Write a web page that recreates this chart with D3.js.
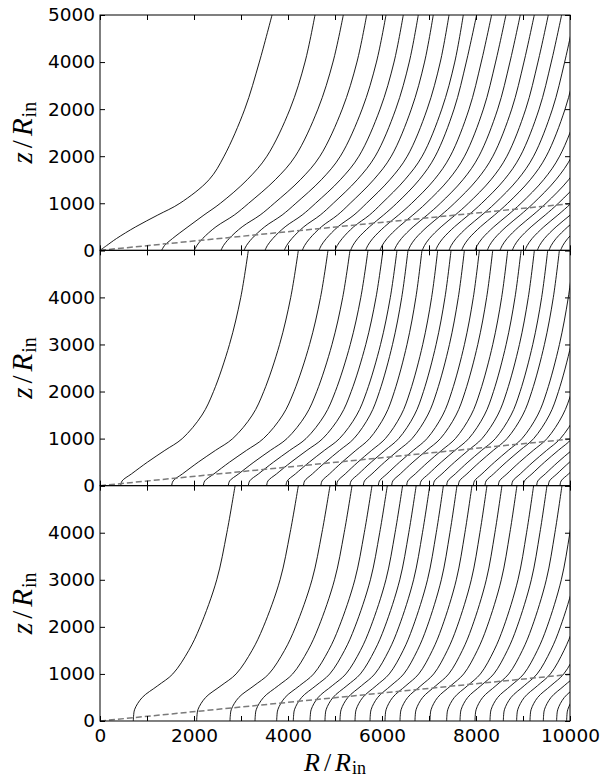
<!DOCTYPE html>
<html><head><meta charset="utf-8">
<script src="https://cdn.jsdelivr.net/npm/d3@7"></script>
<style>body{margin:0;background:#fff}svg{display:block}</style>
</head><body>
<svg id="chart" width="603" height="779"></svg>
<script>
// ---- data ----
const zLevels = [0, 100, 250, 500, 750, 1000, 1500, 2000, 3000, 4000, 5000];

const xTickValues = [0,1000,2000,3000,4000,5000,6000,7000,8000,9000,10000];
const xTickLabels = ["0","","2000","","4000","","6000","","8000","","10000"];
const yTickValues = [0,1000,2000,3000,4000,5000];
const topYTickLabels = ["0","1000","2000","2000","4000","5000"];
const lowerYTickLabels = ["0","1000","2000","3000","4000",""];

const diskR = [0, 10000];
const diskZ = [0, 990];

// top panel: footpoints (R at z=0) and horizontal rise R-R0 at each zLevel
const topFeet = [0,1312,2007,2574,3064,3511,3922,4305,4660,5000,5333,5652,5957,6262,6560,6858,7142,7426,7695,7979,8241,8511,8773,9043,9305,9553,9801];
const topBulk = [0,45,150,400,700,980,1460,1800,2200,2460,2680];
const topRises = [
  [0,140,350,760,1230,1700,2320,2640,3080,3390,3660],
  [0,60,230,560,900,1250,1820,2240,2730,3050,3262],
  [0,53,177,460,850,1156,1723,2148,2630,2950,3170],
  [0,52,174,451,833,1134,1689,2106,2580,2893,3100],
  [0,51,169,440,811,1104,1646,2051,2513,2818,3021],
  [0,49,165,428,790,1076,1603,1998,2448,2745,2942],
  [0,48,160,415,765,1042,1552,1935,2371,2658,2850],
  [0,47,156,406,749,1019,1518,1893,2319,2600,2786],
  [0,46,155,402,743,1011,1507,1878,2301,2580,2766],
  [0,46,153,397,734,999,1487,1855,2272,2548,2730],
  topBulk,topBulk,topBulk,topBulk,topBulk,topBulk,topBulk,topBulk,topBulk,
  topBulk,topBulk,topBulk,topBulk,topBulk,topBulk,topBulk,topBulk
];

// middle panel
const midFeet = [440,1525,2199,2730,3156,3546,3957,4330,4700,5035,5319,5603,5922,6206,6525,6809,7092,7376,7624,7943,8191,8475,8759,9007,9291,9539,9787];
const midBulk = [0,24,183,452,744,1036,1370,1563,1832,2021,2150];
const midRises = [
  [0,30,230,570,940,1310,1730,1975,2315,2555,2716],
  [0,30,229,566,932,1299,1717,1959,2296,2533,2695],
  [0,29,225,557,918,1278,1689,1928,2260,2493,2652],
  [0,28,220,544,896,1248,1649,1882,2206,2434,2589],
  [0,28,216,535,881,1227,1622,1851,2169,2393,2546],
  [0,27,210,520,856,1193,1577,1799,2109,2327,2475],
  [0,26,201,496,817,1138,1505,1717,2012,2220,2362],
  [0,24,189,467,769,1072,1416,1616,1894,2090,2223],
  midBulk,midBulk,midBulk,midBulk,midBulk,midBulk,midBulk,midBulk,midBulk,midBulk,
  midBulk,midBulk,midBulk,midBulk,midBulk,midBulk,midBulk,midBulk,midBulk
];

// bottom panel
const botFeet = [709,2057,2766,3298,3759,4113,4468,4787,5106,5426,5745,6064,6383,6702,7021,7376,7660,7979,8298,8582,8865,9149,9433,9716,9929];
const botBulk = [0,4,26,163,444,718,1008,1214,1517,1700,1850];
const botRises = [
  [0,5,30,190,520,840,1180,1420,1775,1990,2165],
  [0,5,30,190,519,839,1179,1419,1774,1988,2163],
  [0,5,30,187,511,826,1160,1396,1745,1956,2128],
  [0,5,29,182,495,801,1125,1354,1692,1897,2064],
  [0,5,28,178,487,787,1105,1330,1663,1864,2028],
  [0,5,28,176,480,776,1090,1312,1640,1838,2000],
  [0,5,28,173,473,764,1074,1292,1615,1810,1970],
  [0,4,27,171,466,753,1057,1273,1591,1783,1940],
  [0,4,27,168,458,741,1041,1253,1566,1755,1910],
  [0,4,26,165,451,729,1025,1233,1542,1728,1880],
  botBulk,botBulk,botBulk,botBulk,botBulk,botBulk,botBulk,botBulk,
  botBulk,botBulk,botBulk,botBulk,botBulk,botBulk,botBulk
];

const panels = [
  {feet: topFeet, rises: topRises, yLabels: topYTickLabels, showX: false},
  {feet: midFeet, rises: midRises, yLabels: lowerYTickLabels, showX: false},
  {feet: botFeet, rises: botRises, yLabels: lowerYTickLabels, showX: true}
];

// ---- layout ----
const left = 100, right = 570, top0 = 15, panelH = 235.33;
const svg = d3.select("#chart");
const x = d3.scaleLinear().domain([0, 10000]).range([left, right]);
const mathFont = "'Liberation Serif', 'Times New Roman', serif";

function mathLabel(sel, first, subSize, subDy) {
  sel.append("tspan").attr("font-style", "italic").text(first);
  sel.append("tspan").attr("dx", 4).text("/");
  sel.append("tspan").attr("dx", 4).attr("font-style", "italic").text("R");
  sel.append("tspan").attr("dx", 1).attr("font-size", subSize).attr("dy", subDy).text("in");
}

panels.forEach((p, k) => {
  const y0 = top0 + k * panelH;
  const y = d3.scaleLinear().domain([0, 5000]).range([y0 + panelH, y0]);
  const g = svg.append("g");
  const clipId = "clip" + k;
  svg.append("clipPath").attr("id", clipId).append("rect")
    .attr("x", left).attr("y", y0).attr("width", right - left).attr("height", panelH);

  const lineGen = d3.line().x(d => x(d[0])).y(d => y(d[1])).curve(d3.curveCatmullRom.alpha(0.5));
  const lg = g.append("g").attr("clip-path", `url(#${clipId})`);
  p.feet.forEach((f, i) => {
    const pts = zLevels.map((z, j) => [f + p.rises[i][j], z]);
    lg.append("path").attr("d", lineGen(pts)).attr("fill", "none")
      .attr("stroke", "#000").attr("stroke-width", 0.9);
  });
  lg.append("path")
    .attr("d", d3.line().x(d => x(d[0])).y(d => y(d[1]))(diskR.map((r, i) => [r, diskZ[i]])))
    .attr("fill", "none").attr("stroke", "#7a7a7a").attr("stroke-width", 1.5)
    .attr("stroke-dasharray", "6,3");

  // axes
  const fontFam = "'DejaVu Sans', sans-serif";
  const ax = (gen, tx, ty) => {
    const a = g.append("g").attr("transform", `translate(${tx},${ty})`).call(gen);
    a.select(".domain").remove();
    a.selectAll("line").attr("stroke", "#000").attr("stroke-width", 1);
    a.selectAll("text").attr("font-family", fontFam).attr("font-size", 18.5).attr("fill", "#000");
    return a;
  };
  ax(d3.axisLeft(y).tickValues(yTickValues).tickSize(-5).tickPadding(5)
      .tickFormat((d, i) => p.yLabels[i]), left, 0);
  ax(d3.axisRight(y).tickValues(yTickValues).tickSize(-5).tickFormat(""), right, 0);
  ax(d3.axisTop(x).tickValues(xTickValues).tickSize(-5).tickFormat(""), 0, y0);
  ax(d3.axisBottom(x).tickValues(xTickValues).tickSize(-5).tickPadding(8)
      .tickFormat((d, i) => p.showX ? xTickLabels[i] : ""), 0, y0 + panelH);

  g.append("rect").attr("x", left).attr("y", y0).attr("width", right - left).attr("height", panelH)
    .attr("fill", "none").attr("stroke", "#000").attr("stroke-width", 1);

  // y label
  const yl = g.append("text")
    .attr("transform", `translate(32,${y0 + panelH / 2}) rotate(-90)`)
    .attr("text-anchor", "middle")
    .attr("font-family", mathFont).attr("font-size", 29).attr("fill", "#000");
  mathLabel(yl, "z", 20, 4);
});

// x label
const xl = svg.append("text").attr("x", (left + right) / 2).attr("y", 771)
  .attr("text-anchor", "middle")
  .attr("font-family", mathFont).attr("font-size", 26).attr("fill", "#000");
mathLabel(xl, "R", 18, 3);
</script>
</body></html>
